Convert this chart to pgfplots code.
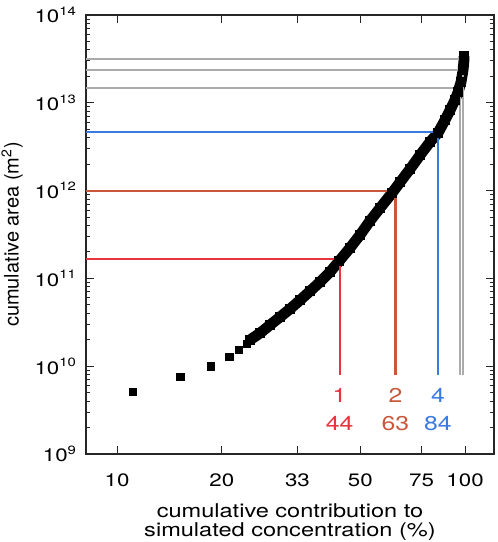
\documentclass[border=0pt]{standalone}
\usepackage{pgfplots}
\pgfplotsset{compat=1.18}
\usepackage{fontspec}
\setmainfont{TeX Gyre Heros}[FakeStretch=1.24]
\newfontfamily\ylfont{TeX Gyre Heros}
\definecolor{cred}{HTML}{E8343E}
\definecolor{corange}{HTML}{C9583A}
\definecolor{cblue}{HTML}{3A7BE0}
\definecolor{cgray}{HTML}{ABABAB}
\begin{document}
\begin{tikzpicture}
\begin{axis}[
  scale only axis,
  width=204pt, height=219.5pt,
  xmode=log, ymode=log,
  xmin=8.146, xmax=121.1,
  ymin=1e9, ymax=1e14,
  xtick={10,20,33,50,75,100},
  xticklabels={10,20,33,50,75,100},
  xminorticks=false,
  ytick={1e9,1e10,1e11,1e12,1e13,1e14},
  yticklabels={10\textsuperscript{9},10\textsuperscript{10},10\textsuperscript{11},10\textsuperscript{12},10\textsuperscript{13},10\textsuperscript{14}},
  minor ytick={2e9,3e9,4e9,5e9,6e9,7e9,8e9,9e9,
    2e10,3e10,4e10,5e10,6e10,7e10,8e10,9e10,
    2e11,3e11,4e11,5e11,6e11,7e11,8e11,9e11,
    2e12,3e12,4e12,5e12,6e12,7e12,8e12,9e12,
    2e13,3e13,4e13,5e13,6e13,7e13,8e13,9e13},
  tick align=inside,
  major tick length=4pt, minor tick length=2.2pt,
  every tick/.style={black!85, line width=0.5pt},
  axis line style={black!85, line width=0.6pt},
  tick label style={font=\fontsize{9}{10}\selectfont},
  xticklabel style={yshift=-6.5pt},
  yticklabel style={xshift=-1pt},
  xlabel={cumulative contribution to\\simulated concentration (\%)},
  xlabel style={align=center, font=\fontsize{9.5}{9.6}\selectfont, yshift=-1.5pt},
  ylabel={\ylfont cumulative area (m\textsuperscript{2})},
  ylabel style={font=\fontsize{10}{11}\selectfont, yshift=-1pt},
  clip=false,
]
% discrete squares
\addplot[only marks, mark=square*, mark size=1.9pt, black] coordinates {
(11.1,5.08e9) (15.2,7.53e9) (18.6,1.00e10) (21.0,1.27e10) (22.4,1.53e10) (23.6,1.79e10)
};
% dense band
\addplot[black, line width=5.4pt, line join=round, mark=square*, mark size=2.3pt, mark options={line width=0pt}] coordinates {
(24.1,1.99e10) (25.8,2.39e10) (27.5,2.94e10) (29.4,3.63e10) (31.4,4.48e10)
(33.6,5.67e10) (35.9,7.18e10) (38.3,9.09e10) (40.9,1.18e11) (43.5,1.58e11)
(46.7,2.22e11) (49.9,3.12e11) (53.3,4.51e11) (57.0,6.34e11) (61.7,9.39e11)
(65.1,1.25e12) (69.5,1.76e12) (74.3,2.54e12) (79.3,3.58e12) (83.6,4.53e12)
(87.6,6.37e12) (90.6,8.28e12) (93.6,1.08e13) (95.5,1.33e13) (97.4,1.73e13)
(98.7,2.37e13) (99.3,3.07e13) (99.3,3.41e13)
};
% threshold lines
\addplot[cgray, line width=0.9pt] coordinates {(8.146,3.16e13) (99.0,3.16e13) (99.0,8e9)};
\addplot[cgray, line width=0.9pt] coordinates {(8.146,2.37e13) (98.5,2.37e13) (98.5,8e9)};
\addplot[cgray, line width=0.9pt] coordinates {(8.146,1.48e13) (96.8,1.48e13) (96.8,8e9)};
\addplot[cblue, line width=1.05pt] coordinates {(8.146,4.64e12) (83.6,4.64e12) (83.6,8e9)};
\addplot[corange, line width=1.05pt] coordinates {(8.146,1.0e12) (63.1,1.0e12) (63.1,8e9)};
\addplot[cred, line width=1.05pt] coordinates {(8.146,1.66e11) (43.6,1.66e11) (43.6,8e9)};
\node[cred, font=\fontsize{10}{11}\selectfont] at (axis cs:43.6,4.6e9) {1};
\node[cred, font=\fontsize{10}{11}\selectfont] at (axis cs:43.6,2.25e9) {44};
\node[corange, font=\fontsize{10}{11}\selectfont] at (axis cs:63.1,4.6e9) {2};
\node[corange, font=\fontsize{10}{11}\selectfont] at (axis cs:63.1,2.25e9) {63};
\node[cblue, font=\fontsize{10}{11}\selectfont] at (axis cs:83.6,4.6e9) {4};
\node[cblue, font=\fontsize{10}{11}\selectfont] at (axis cs:83.6,2.25e9) {84};
\end{axis}
\pgfresetboundingbox
\path[use as bounding box] (-43pt,-44pt) rectangle (206pt,227pt);
\end{tikzpicture}
\end{document}
